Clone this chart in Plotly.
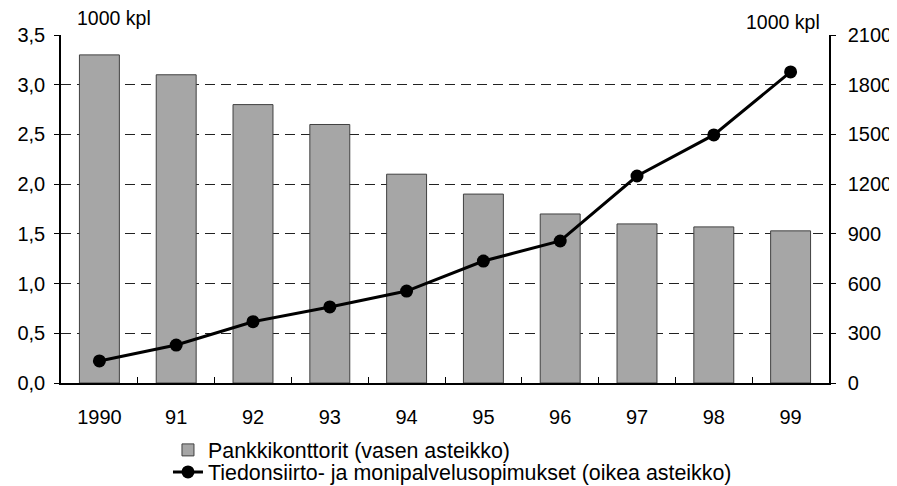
import plotly.graph_objects as go

years = ["1990", "91", "92", "93", "94", "95", "96", "97", "98", "99"]
branches = [3.3, 3.1, 2.8, 2.6, 2.1, 1.9, 1.7, 1.6, 1.57, 1.53]
contracts = [133, 229, 370, 459, 555, 736, 857, 1249, 1497, 1877]
left_ticks = [0, 0.5, 1.0, 1.5, 2.0, 2.5, 3.0, 3.5]
left_labels = ["0,0", "0,5", "1,0", "1,5", "2,0", "2,5", "3,0", "3,5"]
right_ticks = [0, 300, 600, 900, 1200, 1500, 1800, 2100]

FONT = "Liberation Sans, Arial, sans-serif"

fig = go.Figure()
fig.add_trace(go.Bar(
    x=years, y=branches, name="Pankkikonttorit (vasen asteikko)",
    marker=dict(color="#a6a6a6", line=dict(color="#404040", width=1)),
    width=0.52, yaxis="y", legend="legend",
))
fig.add_trace(go.Scatter(
    x=years, y=contracts, name="Tiedonsiirto- ja monipalvelusopimukset (oikea asteikko)",
    mode="lines+markers", line=dict(color="black", width=3),
    marker=dict(color="black", size=13), yaxis="y2", legend="legend2",
))

# page has an 8px body margin, so figure is 8px smaller in each direction
fig.update_layout(
    width=889, height=478,
    margin=dict(l=53, r=68, t=27, b=103, autoexpand=False),
    paper_bgcolor="white", plot_bgcolor="white",
    font=dict(family=FONT, size=20, color="black"),
    showlegend=True,
    legend=dict(x=0.1393, y=-0.1925, xanchor="left", yanchor="middle",
                font=dict(size=21.4), itemwidth=30, bgcolor="rgba(0,0,0,0)"),
    legend2=dict(x=0.1393, y=-0.2557, xanchor="left", yanchor="middle",
                 font=dict(size=21.4), itemwidth=30, bgcolor="rgba(0,0,0,0)"),
    xaxis=dict(type="category", showline=True, linecolor="black", linewidth=1.5,
               ticks="inside", ticklen=6, tickson="boundaries", tickcolor="black",
               showgrid=False, range=[-0.5, 9.5], tickfont=dict(size=20),
               ticklabelstandoff=15),
    yaxis=dict(range=[0, 3.5], tickvals=left_ticks, ticktext=left_labels,
               showline=True, linecolor="black", linewidth=1.5, ticks="outside",
               ticklen=5, tickcolor="black", showgrid=True, gridcolor="#222222",
               griddash="10px,6px", gridwidth=1, zeroline=False,
               tickfont=dict(size=20), ticklabelstandoff=5),
    yaxis2=dict(range=[0, 2100], tickvals=right_ticks, overlaying="y", side="right",
                showline=True, linecolor="black", linewidth=1.5, ticks="outside",
                ticklen=5, tickcolor="black", showgrid=False, zeroline=False,
                tickfont=dict(size=20), ticklabelstandoff=8),
    annotations=[
        dict(text="1000 kpl", xref="paper", yref="paper", x=0.0182, y=1.0,
             xanchor="left", yanchor="middle", yshift=17.5, showarrow=False,
             font=dict(size=19.5)),
        dict(text="1000 kpl", xref="paper", yref="paper", x=0.991, y=1.0,
             xanchor="right", yanchor="middle", yshift=13, showarrow=False,
             font=dict(size=19.5)),
    ],
)

fig.write_html("out.html")
